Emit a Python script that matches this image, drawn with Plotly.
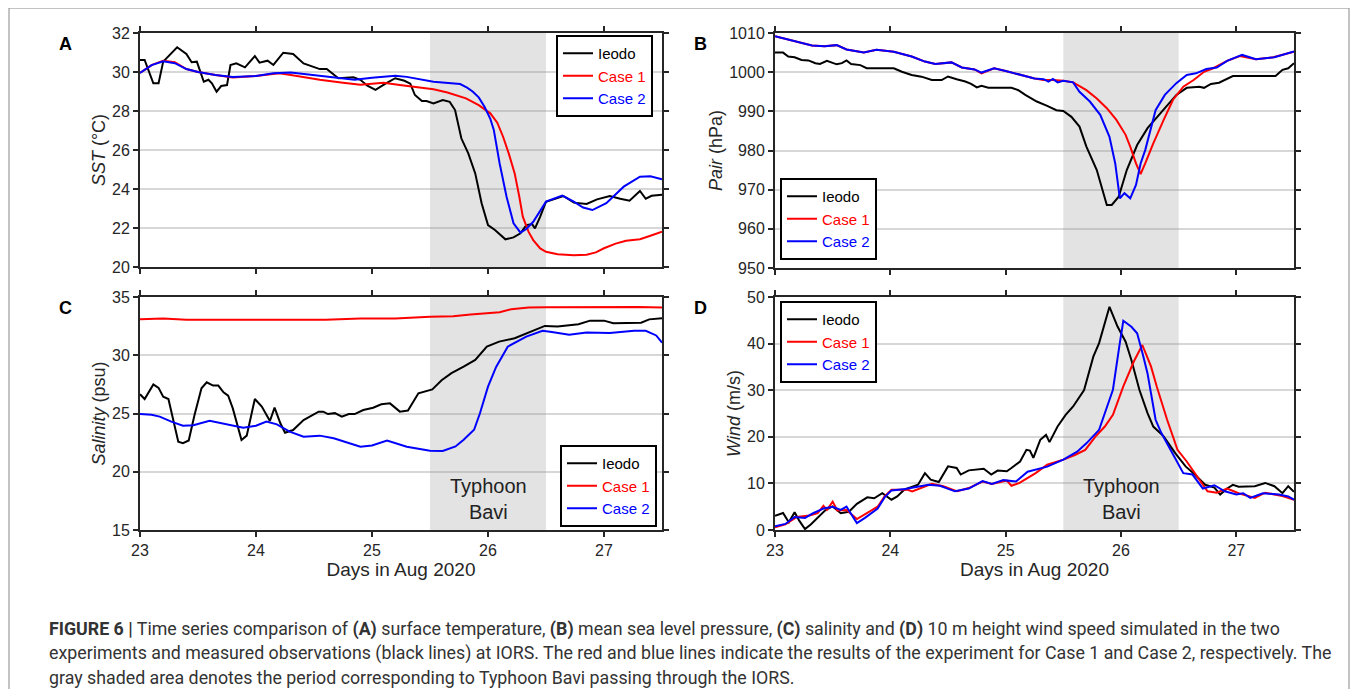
import plotly.graph_objects as go

# ---------------- DATA ----------------
# Panel A: SST (°C)
a_obs_t = [23.0, 23.04, 23.115, 23.16, 23.2, 23.32, 23.40, 23.445, 23.49, 23.55, 23.59, 23.62, 23.66, 23.70, 23.75,
           23.78, 23.83, 23.905, 23.99, 24.03, 24.1, 24.15, 24.235, 24.32, 24.41, 24.55, 24.61, 24.71, 24.84, 24.90,
           24.96, 25.03, 25.12, 25.2, 25.28, 25.33, 25.37, 25.43, 25.47, 25.53, 25.61, 25.67, 25.716, 25.77, 25.83,
           25.89, 25.945, 26.0, 26.06, 26.15, 26.22, 26.28, 26.33, 26.38, 26.405, 26.45, 26.5, 26.57, 26.65, 26.74,
           26.85, 26.94, 27.05, 27.14, 27.22, 27.31, 27.36, 27.41, 27.5]
a_obs_v = [30.62, 30.62, 29.42, 29.42, 30.53, 31.27, 30.92, 30.5, 30.53, 29.5, 29.6, 29.42, 28.99, 29.28, 29.33,
           30.36, 30.45, 30.24, 30.82, 30.48, 30.58, 30.36, 30.99, 30.92, 30.44, 30.15, 30.15, 29.68, 29.73, 29.6,
           29.3, 29.08, 29.42, 29.68, 29.55, 29.4, 28.82, 28.51, 28.51, 28.39, 28.56, 28.47, 28.05, 26.6, 25.83,
           24.8, 23.27, 22.15, 21.9, 21.42, 21.52, 21.73, 22.15, 22.2, 21.98, 22.58, 23.35, 23.47, 23.64, 23.3,
           23.23, 23.47, 23.64, 23.5, 23.4, 23.9, 23.5, 23.65, 23.7]
a_c1_t = [23.0, 23.1, 23.2, 23.3, 23.4, 23.5, 23.65, 23.8, 24.0, 24.2, 24.3, 24.55, 24.75, 24.9, 25.0, 25.1, 25.24,
          25.4, 25.53, 25.65, 25.81, 25.92, 26.02, 26.08, 26.13, 26.18, 26.23, 26.27, 26.30, 26.35, 26.39, 26.45,
          26.5, 26.6, 26.74, 26.85, 26.93, 27.0, 27.1, 27.19, 27.31, 27.4, 27.5]
a_c1_v = [29.95, 30.35, 30.58, 30.5, 30.15, 30.0, 29.85, 29.72, 29.8, 29.93, 29.85, 29.6, 29.45, 29.35, 29.4, 29.45,
          29.33, 29.2, 29.11, 28.95, 28.65, 28.3, 27.88, 27.4, 26.68, 25.8, 24.8, 23.6, 22.58, 21.8, 21.38, 20.95,
          20.78, 20.65, 20.6, 20.63, 20.75, 20.96, 21.2, 21.35, 21.42, 21.6, 21.81]
a_c2_t = [23.0, 23.1, 23.2, 23.3, 23.4, 23.5, 23.65, 23.8, 24.0, 24.15, 24.3, 24.5, 24.7, 24.85, 25.0, 25.2, 25.3,
          25.53, 25.76, 25.82, 25.87, 25.92, 25.97, 26.02, 26.05, 26.10, 26.16, 26.22, 26.28, 26.33, 26.39, 26.5,
          26.64, 26.74, 26.82, 26.9, 27.02, 27.17, 27.31, 27.4, 27.5]
a_c2_v = [29.95, 30.35, 30.55, 30.45, 30.15, 30.0, 29.85, 29.75, 29.8, 29.93, 29.98, 29.85, 29.7, 29.6, 29.7, 29.81,
          29.75, 29.5, 29.38, 29.2, 28.99, 28.7, 28.22, 27.6, 27.03, 25.32, 23.6, 22.24, 21.76, 21.95, 22.32, 23.35,
          23.66, 23.35, 23.05, 22.92, 23.27, 24.12, 24.63, 24.65, 24.5]

# Panel B: Pair (hPa)
b_obs_t = [23.0, 23.07, 23.115, 23.17, 23.23, 23.29, 23.35, 23.39, 23.45, 23.49, 23.535, 23.58, 23.62, 23.66, 23.74,
           23.795, 24.03, 24.1, 24.185, 24.27, 24.36, 24.445, 24.5, 24.575, 24.65, 24.7, 24.75, 24.79, 24.85, 25.05,
           25.11, 25.17, 25.27, 25.36, 25.44, 25.5, 25.57, 25.64, 25.70, 25.79, 25.83, 25.877, 25.92, 25.98, 26.05,
           26.14, 26.23, 26.37, 26.48, 26.57, 26.68, 26.72, 26.78, 26.85, 26.97, 27.34, 27.4, 27.45, 27.5]
b_obs_v = [1005, 1005, 1004, 1003.8, 1003.1, 1003, 1002.3, 1002.1, 1002.9, 1002.4, 1002.0, 1002.3, 1003, 1002.1,
           1001.8, 1001, 1001, 1000.1, 999.3, 998.85, 998, 998, 998.9, 998.2, 997.6, 997, 996.1, 996.5, 996, 996,
           995.4, 994.2, 992.5, 991.4, 990.3, 990.1, 988.6, 986.1, 981, 975, 970.8, 966.1, 966.1, 968.2, 975,
           981.4, 985.7, 990.3, 994.2, 996, 996.3, 996, 997, 997.3, 999, 999, 1000.6, 1001, 1002.3]
b_c1_t = [23.0, 23.115, 23.2, 23.32, 23.43, 23.535, 23.62, 23.77, 23.88, 24.03, 24.185, 24.3, 24.39, 24.53, 24.62,
          24.73, 24.79, 24.9, 25.0, 25.08, 25.25, 25.33, 25.41, 25.5, 25.585, 25.70, 25.79, 25.877, 25.96, 26.04,
          26.08, 26.13, 26.17, 26.21, 26.28, 26.37, 26.45, 26.54, 26.63, 26.72, 26.8, 26.92, 27.03, 27.17, 27.32, 27.5]
b_c1_v = [1009.2, 1008.4, 1007.8, 1006.8, 1006.6, 1006.9, 1005.8, 1005, 1005.7, 1005.2, 1004, 1002.7, 1002.1,
          1002.5, 1001.2, 1000.7, 999.7, 1001, 1000.3, 999.7, 998.4, 998, 998, 997.8, 997.4, 995.4, 993.3, 990.8,
          987.8, 984, 981, 976.7, 974, 976.7, 981.8, 987.8, 992.9, 996.3, 998, 1000.1, 1001, 1002.9, 1004.1,
          1003.3, 1003.8, 1005.2]
b_c2_t = [23.0, 23.115, 23.2, 23.32, 23.43, 23.535, 23.62, 23.77, 23.88, 24.03, 24.185, 24.3, 24.39, 24.53, 24.62,
          24.73, 24.79, 24.9, 25.0, 25.08, 25.25, 25.33, 25.37, 25.41, 25.45, 25.5, 25.585, 25.64, 25.73, 25.82,
          25.90, 25.95, 25.99, 26.03, 26.08, 26.13, 26.17, 26.21, 26.3, 26.38, 26.48, 26.57, 26.65, 26.74, 26.83,
          26.92, 27.05, 27.17, 27.33, 27.5]
b_c2_v = [1009.2, 1008.4, 1007.8, 1006.8, 1006.6, 1006.9, 1005.8, 1005, 1005.7, 1005.2, 1004, 1002.7, 1002.1,
          1002.5, 1001.2, 1000.7, 999.9, 1001, 1000.3, 999.7, 998.4, 998.2, 997.6, 998.3, 997.4, 997.8, 997.4, 995,
          992.5, 989.1, 983.5, 976.7, 967.8, 969.1, 967.8, 971.2, 976.7, 980.1, 990.3, 994.2, 997.2, 999.3, 999.7,
          1000.8, 1001.2, 1002.9, 1004.4, 1003.3, 1003.8, 1005.3]

# Panel C: Salinity (psu)
c_obs_t = [23.0, 23.04, 23.115, 23.16, 23.2, 23.245, 23.33, 23.37, 23.42, 23.47, 23.53, 23.575, 23.63, 23.675, 23.72,
           23.76, 23.80, 23.875, 23.92, 23.99, 24.05, 24.12, 24.16, 24.21, 24.25, 24.32, 24.41, 24.48, 24.54, 24.58,
           24.62, 24.68, 24.74, 24.80, 24.85, 24.925, 25.01, 25.08, 25.155, 25.24, 25.31, 25.40, 25.47, 25.52, 25.6,
           25.685, 25.79, 25.89, 25.99, 26.096, 26.23, 26.37, 26.49, 26.6, 26.78, 26.88, 27.0, 27.08, 27.32, 27.39,
           27.5]
c_obs_v = [26.65, 26.24, 27.5, 27.2, 26.44, 26.24, 22.58, 22.45, 22.68, 24.87, 27.16, 27.68, 27.4, 27.4, 26.82,
           26.53, 25.44, 22.73, 23.1, 26.24, 25.6, 24.36, 25.5, 24.16, 23.35, 23.58, 24.44, 24.81, 25.16, 25.16,
           24.95, 25.03, 24.73, 24.95, 24.95, 25.3, 25.5, 25.79, 25.87, 25.16, 25.25, 26.73, 26.93, 27.07, 27.85,
           28.46, 29.03, 29.6, 30.74, 31.17, 31.46, 32.03, 32.52, 32.46, 32.66, 32.97, 32.97, 32.75, 32.8, 33.08,
           33.17]
c_c1_t = [23.0, 23.1, 23.2, 23.4, 23.7, 24.0, 24.3, 24.6, 24.9, 25.2, 25.5, 25.7, 25.85, 26.0, 26.1, 26.2, 26.35,
          26.5, 26.8, 27.1, 27.3, 27.5]
c_c1_v = [33.1, 33.15, 33.15, 33.05, 33.05, 33.05, 33.1, 33.05, 33.15, 33.15, 33.3, 33.35, 33.5, 33.6, 33.7, 33.95,
          34.1, 34.12, 34.15, 34.15, 34.15, 34.1]
c_c2_t = [23.0, 23.1, 23.17, 23.27, 23.37, 23.46, 23.6, 23.75, 23.89, 24.0, 24.09, 24.18, 24.29, 24.41, 24.55, 24.67,
          24.9, 25.0, 25.13, 25.3, 25.5, 25.61, 25.72, 25.79, 25.88, 25.93, 26.0, 26.07, 26.17, 26.33, 26.47, 26.55,
          26.7, 26.85, 27.05, 27.26, 27.36, 27.45, 27.5]
c_c2_v = [24.95, 24.9, 24.73, 24.3, 23.95, 24.0, 24.38, 24.07, 23.78, 23.95, 24.3, 24.07, 23.44, 23.0, 23.1, 22.87,
          22.15, 22.25, 22.67, 22.15, 21.8, 21.78, 22.17, 22.74, 23.6, 25.0, 27.3, 29.0, 30.74, 31.6, 32.1, 32.0,
          31.75, 31.95, 31.9, 32.1, 32.1, 31.7, 31.08]

# Panel D: Wind (m/s)
d_obs_t = [23.0, 23.07, 23.12, 23.17, 23.21, 23.26, 23.31, 23.37, 23.44, 23.5, 23.57, 23.64, 23.71, 23.80, 23.86,
           23.93, 24.01, 24.06, 24.12, 24.24, 24.30, 24.35, 24.42, 24.5, 24.575, 24.61, 24.68, 24.81, 24.875, 24.93,
           25.01, 25.05, 25.125, 25.18, 25.21, 25.24, 25.30, 25.35, 25.38, 25.45, 25.52, 25.585, 25.68, 25.76, 25.81,
           25.90, 25.97, 26.04, 26.09, 26.16, 26.23, 26.28, 26.37, 26.47, 26.56, 26.64, 26.73, 26.81, 26.86, 26.92,
           26.97, 27.02, 27.16, 27.25, 27.33, 27.40, 27.45, 27.5]
d_obs_v = [3.07, 3.65, 1.65, 3.8, 2.0, 0.2, 1.2, 2.57, 4.35, 5.05, 3.6, 3.9, 5.6, 7.0, 6.8, 7.9, 6.5, 7.2, 8.65, 9.7,
           12.2, 10.8, 10.3, 13.65, 13.3, 11.9, 12.8, 13.15, 11.9, 12.75, 12.6, 13.3, 14.7, 17.2, 17.05, 15.5, 19.35,
           20.4, 18.85, 22.2, 24.7, 26.5, 30.05, 37.2, 40.1, 47.9, 43.65, 40.4, 36.5, 30.05, 25.1, 22.2, 20.1, 16.5,
           13.65, 11.9, 9.7, 9.1, 7.6, 8.9, 9.7, 9.3, 9.4, 10.1, 9.4, 7.9, 9.4, 8.2]
d_c1_t = [23.0, 23.09, 23.19, 23.3, 23.37, 23.42, 23.45, 23.5, 23.54, 23.62, 23.71, 23.8, 23.89, 23.95, 24.01, 24.15,
          24.19, 24.36, 24.46, 24.58, 24.68, 24.8, 24.88, 25.01, 25.05, 25.12, 25.26, 25.36, 25.5, 25.6, 25.69, 25.78,
          25.86, 25.93, 26.02, 26.11, 26.185, 26.26, 26.31, 26.4, 26.49, 26.57, 26.66, 26.75, 26.83, 26.92, 27.02,
          27.16, 27.25, 27.4, 27.5]
d_c1_v = [0.6, 1.2, 2.8, 3.1, 3.6, 5.2, 4.3, 6.1, 4.2, 4.3, 2.35, 3.6, 5.0, 7.2, 8.65, 8.65, 8.3, 9.9, 9.4, 8.3, 9.0,
          10.4, 9.9, 10.6, 9.5, 10.1, 12.2, 14.0, 15.1, 16.1, 17.2, 20.1, 22.2, 24.7, 30.8, 36.1, 39.7, 35.1, 30.8,
          23.65, 17.2, 14.7, 11.6, 8.3, 8.0, 8.9, 7.9, 6.9, 8.0, 7.3, 6.5]
d_c2_t = [23.0, 23.09, 23.17, 23.26, 23.33, 23.42, 23.5, 23.57, 23.62, 23.71, 23.78, 23.89, 23.95, 24.01, 24.13,
          24.33, 24.43, 24.56, 24.68, 24.8, 24.88, 24.98, 25.09, 25.19, 25.36, 25.5, 25.62, 25.70, 25.81, 25.88, 25.93,
          25.985, 26.02, 26.09, 26.14, 26.19, 26.23, 26.26, 26.3, 26.35, 26.44, 26.54, 26.62, 26.71, 26.81, 26.9,
          27.0, 27.06, 27.12, 27.23, 27.37, 27.45, 27.5]
d_c2_v = [0.8, 1.3, 2.8, 2.6, 3.6, 4.6, 5.0, 4.3, 5.0, 1.5, 2.6, 4.6, 7.0, 8.5, 8.8, 9.7, 9.5, 8.3, 8.9, 10.5, 9.9,
          10.7, 10.4, 12.5, 13.6, 15.1, 16.8, 18.6, 21.5, 26.5, 30.1, 39.35, 44.9, 43.6, 42.2, 37.6, 33.6, 29.35,
          23.65, 20.8, 16.8, 12.2, 11.9, 8.9, 9.6, 8.3, 7.6, 7.9, 6.9, 7.9, 7.6, 7.2, 6.5]

x_ticks = [23, 24, 25, 26, 27]
series_names = ["Ieodo", "Case 1", "Case 2"]
series_colors = ["#000000", "#ff0000", "#0000ff"]
panel_letters = ["A", "B", "C", "D"]
typhoon_start, typhoon_end = 25.5, 26.5

# ---------------- LAYOUT HELPERS ----------------
# The page body has an 8px margin, so the figure is sized to fit the window inside it.
OFF = 8
W, H = 1358 - 2 * OFF, 697 - 2 * OFF
def px_x(p):
    return (p - OFF) / W
def px_y(p):
    return 1 - (p - OFF) / H

FONT = "Liberation Sans, Arial, Helvetica, sans-serif"
AXC = "#262626"

panels = [
    dict(data=[(a_obs_t, a_obs_v), (a_c1_t, a_c1_v), (a_c2_t, a_c2_v)],
         xr=(140, 662), yr=(33, 267), yrange=[20, 32], dtick=2, ytitle="<i>SST</i> (°C)",
         leg=dict(x=px_x(653), y=px_y(35), xanchor="right", yanchor="top"), xtitle=None),
    dict(data=[(b_obs_t, b_obs_v), (b_c1_t, b_c1_v), (b_c2_t, b_c2_v)],
         xr=(775, 1294), yr=(33, 268), yrange=[950, 1010], dtick=10, ytitle="<i>Pair</i> (hPa)",
         leg=dict(x=px_x(780), y=px_y(260), xanchor="left", yanchor="bottom"), xtitle=None),
    dict(data=[(c_obs_t, c_obs_v), (c_c1_t, c_c1_v), (c_c2_t, c_c2_v)],
         xr=(140, 662), yr=(297, 530), yrange=[15, 35], dtick=5, ytitle="<i>Salinity</i> (psu)",
         leg=dict(x=px_x(657), y=px_y(527), xanchor="right", yanchor="bottom"), xtitle="Days in Aug 2020"),
    dict(data=[(d_obs_t, d_obs_v), (d_c1_t, d_c1_v), (d_c2_t, d_c2_v)],
         xr=(775, 1294), yr=(297, 530), yrange=[0, 50], dtick=10, ytitle="<i>Wind</i> (m/s)",
         leg=dict(x=px_x(780), y=px_y(301), xanchor="left", yanchor="top"), xtitle="Days in Aug 2020"),
]

fig = go.Figure()
layout = dict(width=W, height=H, margin=dict(l=0, r=0, t=0, b=0, pad=0, autoexpand=False),
              paper_bgcolor="white", plot_bgcolor="white", showlegend=True,
              font=dict(family=FONT, color=AXC))
shapes = []
annotations = []

for i, p in enumerate(panels):
    n = i + 1
    xa = "x" if n == 1 else f"x{n}"
    ya = "y" if n == 1 else f"y{n}"
    legname = "legend" if n == 1 else f"legend{n}"
    for (t, v), name, col in zip(p["data"], series_names, series_colors):
        fig.add_trace(go.Scatter(x=t, y=v, mode="lines", xaxis=xa, yaxis=ya, legend=legname,
                                 name=f"<span style='color:{col}'>{name}</span>",
                                 line=dict(color=col, width=2)))
    xkey = "xaxis" if n == 1 else f"xaxis{n}"
    ykey = "yaxis" if n == 1 else f"yaxis{n}"
    layout[xkey] = dict(domain=[px_x(p["xr"][0]), px_x(p["xr"][1])], anchor=ya, range=[23, 27.5],
                        tickvals=x_ticks, ticks="outside", ticklen=5, tickwidth=2, tickcolor=AXC,
                        showline=True, linecolor=AXC, linewidth=2, mirror="ticks", showgrid=False,
                        zeroline=False, showticklabels=p["xtitle"] is not None, automargin=False,
                        tickfont=dict(size=16, color=AXC, family=FONT),
                        title=dict(text=p["xtitle"] or "", font=dict(size=19, color=AXC, family=FONT), standoff=0))
    layout[ykey] = dict(domain=[px_y(p["yr"][1]), px_y(p["yr"][0])], anchor=xa, range=p["yrange"],
                        dtick=p["dtick"], ticks="outside", ticklen=5, tickwidth=2, tickcolor=AXC,
                        showline=True, linecolor=AXC, linewidth=2, mirror="ticks", automargin=False,
                        showgrid=True, gridcolor="rgba(140,140,140,0.35)", gridwidth=2, zeroline=False,
                        tickfont=dict(size=16, color=AXC, family=FONT),
                        title=dict(text=p["ytitle"], font=dict(size=18, color=AXC, family=FONT), standoff=2))
    layout[legname] = dict(**p["leg"], bgcolor="white", bordercolor="#000000", borderwidth=2,
                           font=dict(size=15, family=FONT, color="#000000"), tracegroupgap=0,
                           itemwidth=30)
    shapes.append(dict(type="rect", xref=xa, yref=f"{ya} domain", x0=typhoon_start, x1=typhoon_end,
                       y0=0, y1=1, fillcolor="#e3e3e3", line=dict(width=0), layer="below"))
    annotations.append(dict(text=f"<b>{panel_letters[i]}</b>", xref="paper", yref="paper",
                            x=px_x(p["xr"][0] - 75), y=px_y(p["yr"][0] - 1), xanchor="center", yanchor="top",
                            showarrow=False, font=dict(size=18, color="#000000", family=FONT)))

annotations.append(dict(text="Typhoon<br>Bavi", xref="x3", yref="y3", x=26.0, y=17.7, showarrow=False,
                        font=dict(size=20, color="#222222", family=FONT)))
annotations.append(dict(text="Typhoon<br>Bavi", xref="x4", yref="y4", x=26.0, y=6.7, showarrow=False,
                        font=dict(size=20, color="#222222", family=FONT)))

CAPFONT = "Roboto, sans-serif"
cap_lines = [
    "<b>FIGURE 6 |</b> Time series comparison of <b>(A)</b> surface temperature, <b>(B)</b> mean sea level pressure, "
    "<b>(C)</b> salinity and <b>(D)</b> 10 m height wind speed simulated in the two",
    "experiments and measured observations (black lines) at IORS. The red and blue lines indicate the results of "
    "the experiment for Case 1 and Case 2, respectively. The",
    "gray shaded area denotes the period corresponding to Typhoon Bavi passing through the IORS.",
]
for k, line in enumerate(cap_lines):
    annotations.append(dict(text=line, xref="paper", yref="paper", x=px_x(47), y=px_y(629 + 24 * k),
                            xanchor="left", yanchor="middle", showarrow=False,
                            font=dict(size=17.8, color="#333333", family=CAPFONT)))

shapes.append(dict(type="rect", xref="paper", yref="paper", x0=px_x(9), x1=px_x(1349), y0=-0.02, y1=1.0,
                   line=dict(color="#888888", width=1), fillcolor="rgba(0,0,0,0)", layer="above"))

layout["shapes"] = shapes
layout["annotations"] = annotations
fig.update_layout(**layout)
fig.write_html("out.html")
